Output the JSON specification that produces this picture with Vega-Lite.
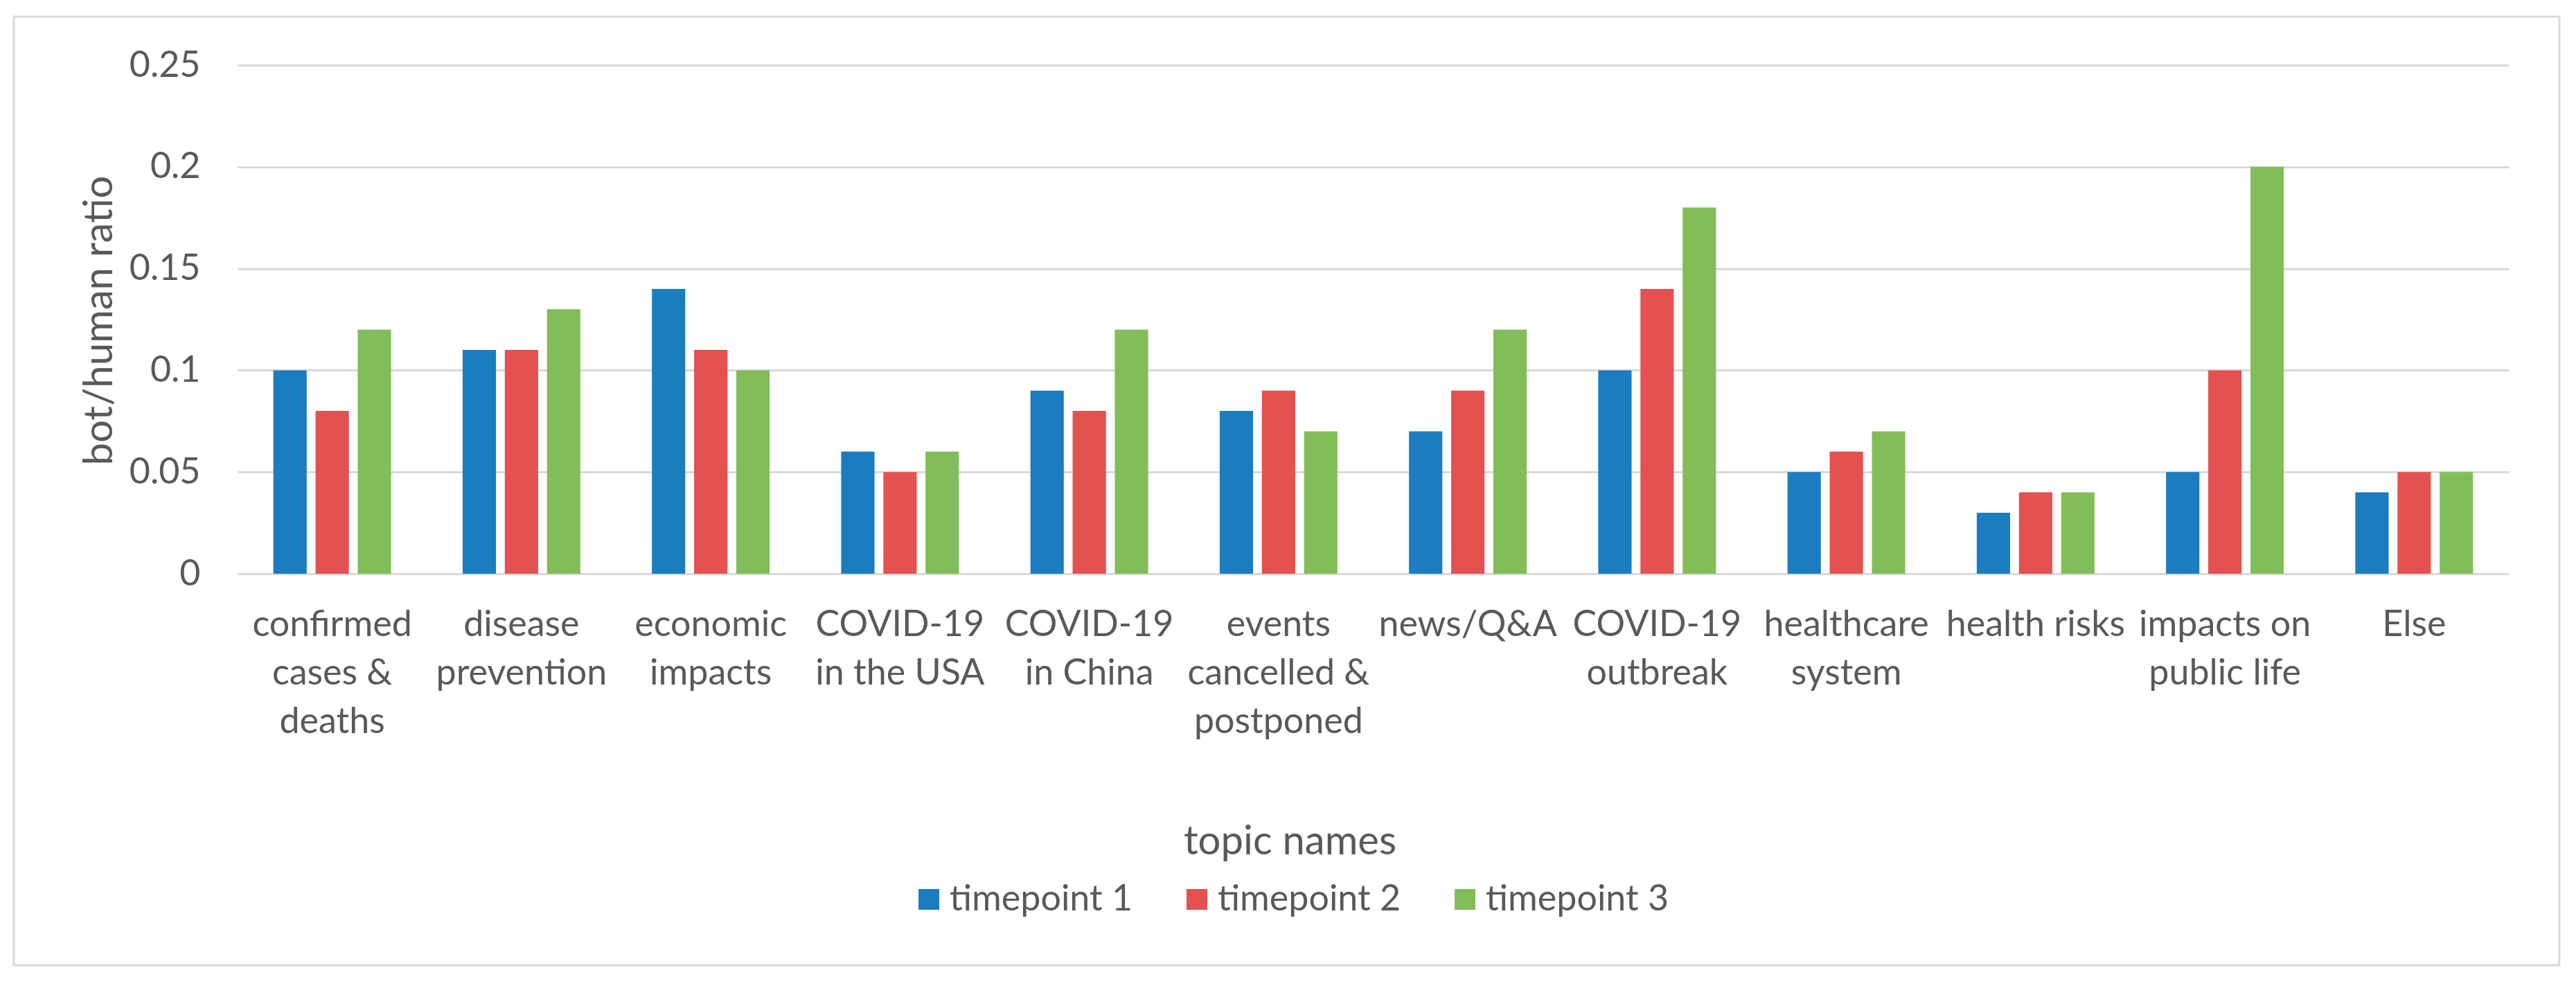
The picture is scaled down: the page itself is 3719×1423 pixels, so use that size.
{
  "$schema": "https://vega.github.io/schema/vega-lite/v6.json",
  "autosize": {"type": "none"},
  "padding": {"left": 20, "top": 24, "right": 24, "bottom": 30},
  "width": 3675,
  "height": 1369,
  "background": "white",
  "config": {
    "view": {"stroke": "#d9d9d9", "strokeWidth": 3},
    "font": "Lato",
    "axis": {"labelFont": "Lato", "titleFont": "Lato", "labelColor": "#595959", "titleColor": "#595959", "titleFontWeight": "normal"},
    "legend": {"labelFont": "Lato", "labelColor": "#595959"}
  },
  "data": {
    "values": [
      {"topic": "confirmed cases & deaths", "timepoint": "timepoint 1", "ratio": 0.1},
      {"topic": "confirmed cases & deaths", "timepoint": "timepoint 2", "ratio": 0.08},
      {"topic": "confirmed cases & deaths", "timepoint": "timepoint 3", "ratio": 0.12},
      {"topic": "disease prevention", "timepoint": "timepoint 1", "ratio": 0.11},
      {"topic": "disease prevention", "timepoint": "timepoint 2", "ratio": 0.11},
      {"topic": "disease prevention", "timepoint": "timepoint 3", "ratio": 0.13},
      {"topic": "economic impacts", "timepoint": "timepoint 1", "ratio": 0.14},
      {"topic": "economic impacts", "timepoint": "timepoint 2", "ratio": 0.11},
      {"topic": "economic impacts", "timepoint": "timepoint 3", "ratio": 0.1},
      {"topic": "COVID-19 in the USA", "timepoint": "timepoint 1", "ratio": 0.06},
      {"topic": "COVID-19 in the USA", "timepoint": "timepoint 2", "ratio": 0.05},
      {"topic": "COVID-19 in the USA", "timepoint": "timepoint 3", "ratio": 0.06},
      {"topic": "COVID-19 in China", "timepoint": "timepoint 1", "ratio": 0.09},
      {"topic": "COVID-19 in China", "timepoint": "timepoint 2", "ratio": 0.08},
      {"topic": "COVID-19 in China", "timepoint": "timepoint 3", "ratio": 0.12},
      {"topic": "events cancelled & postponed", "timepoint": "timepoint 1", "ratio": 0.08},
      {"topic": "events cancelled & postponed", "timepoint": "timepoint 2", "ratio": 0.09},
      {"topic": "events cancelled & postponed", "timepoint": "timepoint 3", "ratio": 0.07},
      {"topic": "news/Q&A", "timepoint": "timepoint 1", "ratio": 0.07},
      {"topic": "news/Q&A", "timepoint": "timepoint 2", "ratio": 0.09},
      {"topic": "news/Q&A", "timepoint": "timepoint 3", "ratio": 0.12},
      {"topic": "COVID-19 outbreak", "timepoint": "timepoint 1", "ratio": 0.1},
      {"topic": "COVID-19 outbreak", "timepoint": "timepoint 2", "ratio": 0.14},
      {"topic": "COVID-19 outbreak", "timepoint": "timepoint 3", "ratio": 0.18},
      {"topic": "healthcare system", "timepoint": "timepoint 1", "ratio": 0.05},
      {"topic": "healthcare system", "timepoint": "timepoint 2", "ratio": 0.06},
      {"topic": "healthcare system", "timepoint": "timepoint 3", "ratio": 0.07},
      {"topic": "health risks", "timepoint": "timepoint 1", "ratio": 0.03},
      {"topic": "health risks", "timepoint": "timepoint 2", "ratio": 0.04},
      {"topic": "health risks", "timepoint": "timepoint 3", "ratio": 0.04},
      {"topic": "impacts on public life", "timepoint": "timepoint 1", "ratio": 0.05},
      {"topic": "impacts on public life", "timepoint": "timepoint 2", "ratio": 0.1},
      {"topic": "impacts on public life", "timepoint": "timepoint 3", "ratio": 0.2},
      {"topic": "Else", "timepoint": "timepoint 1", "ratio": 0.04},
      {"topic": "Else", "timepoint": "timepoint 2", "ratio": 0.05},
      {"topic": "Else", "timepoint": "timepoint 3", "ratio": 0.05}
    ]
  },
  "mark": {"type": "bar"},
  "encoding": {
    "x": {
      "field": "topic",
      "type": "nominal",
      "sort": null,
      "scale": {"range": [323, 3602], "paddingInner": 0.378, "paddingOuter": 0.189},
      "axis": {
        "title": "topic names",
        "titleFontSize": 58,
        "titleX": 1842,
        "titleY": 404,
        "titleBaseline": "alphabetic",
        "titleAlign": "center",
        "titleAnchor": null,
        "offset": -565,
        "domain": false,
        "ticks": false,
        "tickSize": 0,
        "grid": false,
        "labelAngle": 0,
        "labelFontSize": 52,
        "labelLineHeight": 70,
        "labelPadding": 48,
        "labelLimit": 500,
        "labelOverlap": false,
        "labelExpr": "datum.value == 'confirmed cases & deaths' ? ['confirmed', 'cases &', 'deaths'] : datum.value == 'disease prevention' ? ['disease', 'prevention'] : datum.value == 'economic impacts' ? ['economic', 'impacts'] : datum.value == 'COVID-19 in the USA' ? ['COVID-19', 'in the USA'] : datum.value == 'COVID-19 in China' ? ['COVID-19', 'in China'] : datum.value == 'events cancelled & postponed' ? ['events', 'cancelled &', 'postponed'] : datum.value == 'COVID-19 outbreak' ? ['COVID-19', 'outbreak'] : datum.value == 'healthcare system' ? ['healthcare', 'system'] : datum.value == 'impacts on public life' ? ['impacts on', 'public life'] : datum.value"
      }
    },
    "xOffset": {
      "field": "timepoint",
      "type": "nominal",
      "scale": {"paddingInner": 0.21, "paddingOuter": 0}
    },
    "y": {
      "field": "ratio",
      "type": "quantitative",
      "scale": {"domain": [0, 0.25], "range": [804, 70], "nice": false, "zero": true},
      "axis": {
        "title": "bot/human ratio",
        "titleFontSize": 58,
        "titleAngle": -90,
        "titleX": -182,
        "titleY": 438,
        "titleAlign": "center",
        "titleBaseline": "alphabetic",
        "titleAnchor": null,
        "offset": -323,
        "values": [0, 0.05, 0.1, 0.15, 0.2, 0.25],
        "format": "~g",
        "domain": false,
        "ticks": false,
        "tickSize": 0,
        "grid": true,
        "gridColor": "#d9d9d9",
        "gridWidth": 3,
        "labelFontSize": 52,
        "labelPadding": 54
      }
    },
    "color": {
      "field": "timepoint",
      "type": "nominal",
      "scale": {"domain": ["timepoint 1", "timepoint 2", "timepoint 3"], "range": ["#1b7cc0", "#e35150", "#81bd58"]},
      "legend": {
        "title": null,
        "orient": "none",
        "legendX": 1295,
        "legendY": 1248,
        "direction": "horizontal",
        "symbolType": "square",
        "symbolSize": 900,
        "symbolStrokeWidth": 0,
        "labelFontSize": 52,
        "labelLimit": 600,
        "labelOffset": 4,
        "columnPadding": 66,
        "padding": 0
      }
    }
  }
}
